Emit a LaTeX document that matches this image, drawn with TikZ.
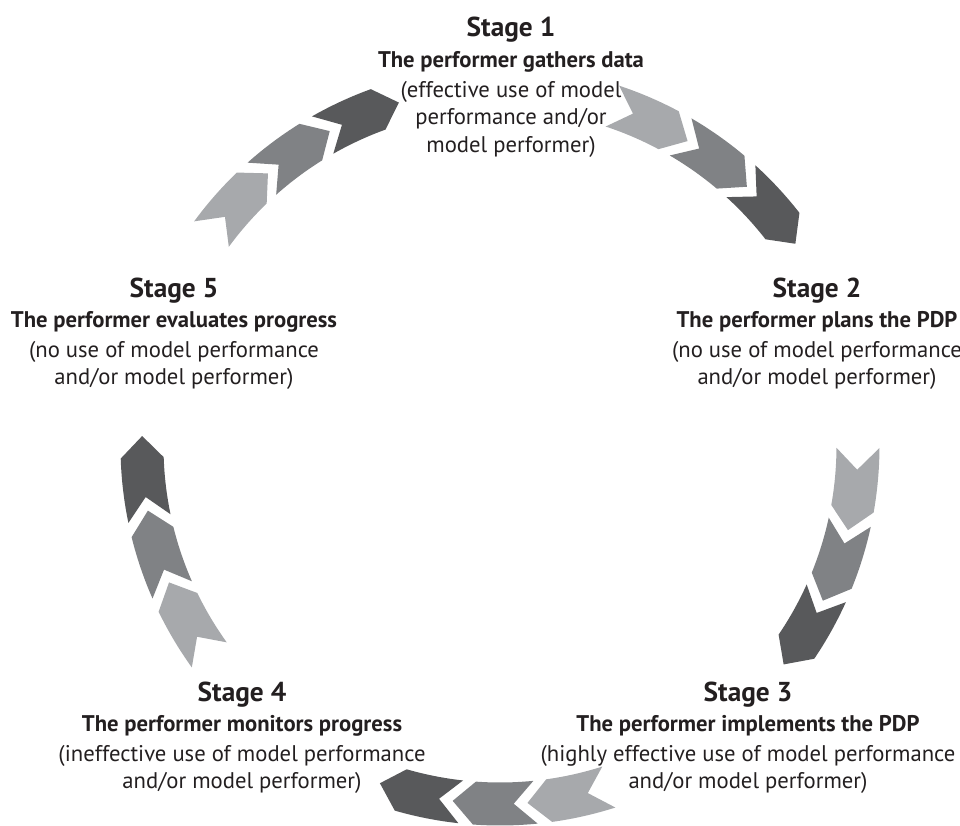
\documentclass[tikz,border=0pt]{standalone}
\usepackage{fontspec}
\setmainfont{PT Sans}
\usepackage{xcolor}
\usepackage{tikz}
\usetikzlibrary{positioning}
\definecolor{chevlight}{HTML}{A7A9AC}
\definecolor{chevmid}{HTML}{808285}
\definecolor{chevdark}{HTML}{58595B}
\definecolor{stagetext}{HTML}{231F20}
\tikzset{
  stagehead/.style={font=\fontsize{20.5}{23}\selectfont\bfseries, text=stagetext, inner sep=0pt, anchor=base},
  stagetitle/.style={font=\fontsize{17}{20}\selectfont\bfseries, text=stagetext, inner sep=0pt, below=6pt of #1},
  stagebody/.style={font=\fontsize{17}{20.5}\selectfont, text=stagetext, align=center, inner sep=0pt, below=6.5pt of #1},
}

\begin{document}
\begin{tikzpicture}[x=0.75pt,y=0.75pt]
          \useasboundingbox (-500,-379) rectangle (460,446);
          % chevrons round the cycle
          \foreach \g in {126.8,54.8,-17.2,-89.2,-161.2}
            \foreach \k/\col in {0/chevlight,1/chevmid,2/chevdark} {
              \pgfmathsetmacro\c{\g+12-12*\k}
              \fill[\col] ({\c+4.9}:379.5) arc[start angle=\c+4.9, end angle=\c-4.9, radius=379.5]
                -- ({\c-8.4}:358) -- ({\c-4.9}:336.5)
                arc[start angle=\c-4.9, end angle=\c+4.9, radius=336.5]
                -- ({\c+1.4}:358) -- cycle;
            }
          % stage 1
          \node[stagehead] (head1) at (11,409) {Stage 1};
          \node[stagetitle=head1] (title1) {The performer gathers data};
          \node[stagebody=title1] (use1) {(effective use of model\\performance and/or\\model performer)};
          % stage 2
          \node[stagehead] (head2) at (317,149) {Stage 2};
          \node[stagetitle=head2] (title2) {The performer plans the PDP};
          \node[stagebody=title2] (use2) {(no use of model performance\\and/or model performer)};
          % stage 3
          \node[stagehead] (head3) at (248,-255) {Stage 3};
          \node[stagetitle=head3] (title3) {The performer implements the PDP};
          \node[stagebody=title3] (use3) {(highly effective use of model performance\\and/or model performer)};
          % stage 4
          \node[stagehead] (head4) at (-258,-255) {Stage 4};
          \node[stagetitle=head4] (title4) {The performer monitors progress};
          \node[stagebody=title4] (use4) {(ineffective use of model performance\\and/or model performer)};
          % stage 5
          \node[stagehead] (head5) at (-326,149) {Stage 5};
          \node[stagetitle=head5] (title5) {The performer evaluates progress};
          \node[stagebody=title5] (use5) {(no use of model performance\\and/or model performer)};
\end{tikzpicture}
\end{document}
